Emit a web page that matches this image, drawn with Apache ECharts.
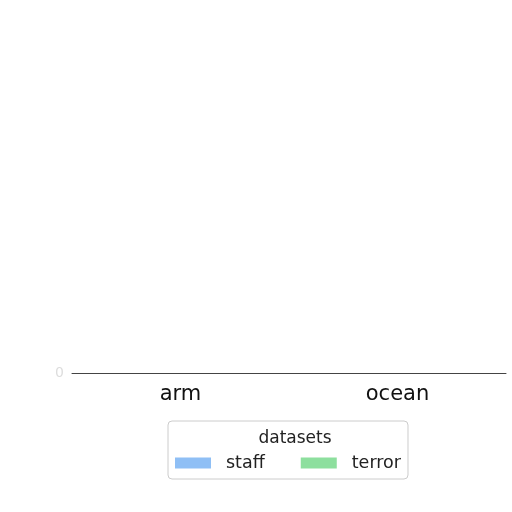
<!DOCTYPE html>
<html lang="en">
<head>
    <meta charset="UTF-8"/>
    <script src="https://cdn.jsdelivr.net/npm/echarts@6/dist/echarts.min.js"></script>
    <title>datasets</title>
    <style>
        html, body { margin: 0; padding: 0; background: #fff; }
        #chart { width: 512px; height: 512px; }
    </style>
</head>
<body>
<div id="chart"></div>
<script type="text/javascript">
    // data: every bar sits on the zero line
    var categories = ['arm', 'ocean'];
    var staffValues = [0, 0];
    var terrorValues = [0, 0];
    var seriesNames = ['staff', 'terror'];

    var myChart = echarts.init(document.getElementById('chart'));
    var option = {
        backgroundColor: '#fff',
        textStyle: { fontFamily: 'DejaVu Sans' },
        title: {
            text: 'datasets',
            left: 290,
            top: 425,
            textAlign: 'center',
            textStyle: { fontSize: 17, fontWeight: 'normal', color: '#222' }
        },
        legend: {
            data: seriesNames,
            left: 168,
            top: 421,
            padding: [33, 7, 7, 7],
            itemWidth: 36,
            itemHeight: 11,
            itemGap: 36,
            borderColor: '#ccc',
            borderWidth: 1,
            borderRadius: 4,
            icon: 'rect',
            textStyle: { fontSize: 17.5, color: '#222', padding: [0, 0, 0, 10] }
        },
        grid: { left: 72, right: 6, top: 20, bottom: 139 },
        xAxis: {
            type: 'category',
            data: categories,
            axisLine: { lineStyle: { color: '#444' } },
            axisTick: { alignWithLabel: true, lineStyle: { color: '#444' } },
            axisLabel: { fontSize: 21, color: '#111', margin: 11 }
        },
        yAxis: {
            type: 'value',
            min: 0,
            max: 1,
            splitLine: { show: false },
            axisLine: { show: false },
            axisTick: { show: false },
            axisLabel: {
                color: '#ddd',
                fontSize: 14,
                formatter: function (v) { return v === 0 ? '0' : ''; }
            }
        },
        series: [
            { name: 'staff', type: 'bar', data: staffValues, itemStyle: { color: '#8fbff5' } },
            { name: 'terror', type: 'bar', data: terrorValues, itemStyle: { color: '#8ddf9e' } }
        ]
    };
    myChart.setOption(option);
</script>
</body>
</html>
